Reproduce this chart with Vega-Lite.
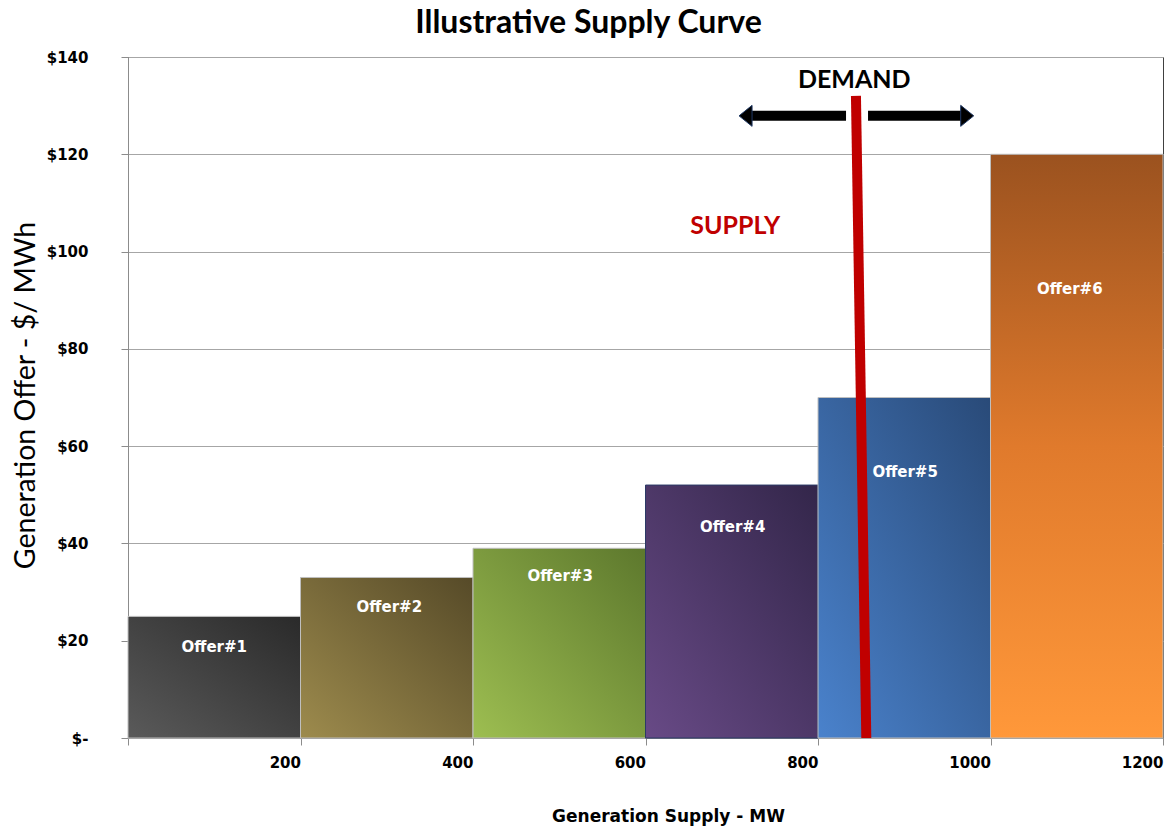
{
  "$schema": "https://vega.github.io/schema/vega-lite/v6.json",
  "width": 1035,
  "height": 681,
  "autosize": {"type": "none"},
  "padding": {"left": 128, "top": 57, "right": 6, "bottom": 90},
  "background": "white",
  "title": {
    "text": "Illustrative Supply Curve",
    "font": "Lato",
    "fontSize": 32,
    "fontWeight": "bold",
    "color": "#000000",
    "anchor": "middle",
    "dx": -57,
    "offset": 10
  },
  "config": {
    "view": {"stroke": "#404040", "strokeWidth": 1},
    "axis": {
      "labelFont": "DejaVu Sans",
      "labelFontWeight": "bold",
      "labelFontSize": 15,
      "labelColor": "#000000",
      "domainColor": "#8c8c8c",
      "tickColor": "#8c8c8c",
      "gridColor": "#a6a6a6"
    }
  },
  "datasets": {
    "bars": [
      {"offer": "Offer#1", "start": 0, "end": 200, "price": 25, "mid": 100, "labelPrice": 18.7},
      {"offer": "Offer#2", "start": 200, "end": 400, "price": 33, "mid": 303, "labelPrice": 26.9},
      {"offer": "Offer#3", "start": 400, "end": 600, "price": 39, "mid": 501, "labelPrice": 33.3},
      {"offer": "Offer#4", "start": 600, "end": 800, "price": 52, "mid": 701, "labelPrice": 43.4},
      {"offer": "Offer#5", "start": 800, "end": 1000, "price": 70, "mid": 901, "labelPrice": 54.7},
      {"offer": "Offer#6", "start": 1000, "end": 1200, "price": 120, "mid": 1092, "labelPrice": 92.3}
    ],
    "demand": [
      {"x1": 844, "y1": 132, "x2": 856, "y2": 0}
    ],
    "arrows": [
      {"dir": "left", "tail": 832.5, "head": 716, "price": 127.9},
      {"dir": "right", "tail": 858, "head": 973, "price": 127.9}
    ],
    "notes": [
      {"label": "DEMAND", "kind": "demand", "q": 842, "price": 135.2},
      {"label": "SUPPLY", "kind": "supply", "q": 704, "price": 105.3}
    ]
  },
  "layer": [
    {
      "data": {"name": "bars"},
      "encoding": {
        "x": {
          "field": "start",
          "type": "quantitative",
          "title": "Generation Supply - MW",
          "scale": {"domain": [0, 1200], "nice": false},
          "axis": {
            "values": [0, 200, 400, 600, 800, 1000, 1200],
            "format": "d",
            "labelExpr": "datum.value == 0 ? '' : datum.label",
            "labelAlign": "right",
            "labelBaseline": "top",
            "labelPadding": 10,
            "tickSize": 7,
            "grid": false,
            "titleFont": "DejaVu Sans",
            "titleFontWeight": "bold",
            "titleFontSize": 17,
            "titleColor": "#000000",
            "titleX": 540,
            "titleY": 83,
            "titleAlign": "center",
            "titleBaseline": "alphabetic"
          }
        },
        "x2": {"field": "end"},
        "y": {
          "field": "price",
          "type": "quantitative",
          "title": "Generation Offer -  $/ MWh",
          "scale": {"domain": [0, 140], "nice": false},
          "axis": {
            "values": [0, 20, 40, 60, 80, 100, 120, 140],
            "labelExpr": "datum.value == 0 ? '$-' : '$' + datum.value",
            "labelPadding": 33,
            "tickSize": 7,
            "grid": true,
            "titleFont": "Lato",
            "titleFontWeight": "normal",
            "titleFontSize": 28.5,
            "titleColor": "#000000",
            "titleAngle": -90,
            "titleX": -103,
            "titleY": 338,
            "titleAlign": "center",
            "titleBaseline": "middle"
          }
        },
        "y2": {"datum": 0}
      },
      "layer": [
        {
          "transform": [{"filter": "datum.offer == 'Offer#1'"}],
          "mark": {"type": "bar", "stroke": "#bfbfbf", "strokeWidth": 1, "fill": {"gradient": "linear", "x1": 0, "y1": 1, "x2": 1, "y2": 0, "stops": [{"offset": 0, "color": "#5a5a5a"}, {"offset": 1, "color": "#2a2a2a"}]}}
        },
        {
          "transform": [{"filter": "datum.offer == 'Offer#2'"}],
          "mark": {"type": "bar", "stroke": "#bfbfbf", "strokeWidth": 1, "fill": {"gradient": "linear", "x1": 0, "y1": 1, "x2": 1, "y2": 0, "stops": [{"offset": 0, "color": "#9d8b4d"}, {"offset": 1, "color": "#564a28"}]}}
        },
        {
          "transform": [{"filter": "datum.offer == 'Offer#3'"}],
          "mark": {"type": "bar", "stroke": "#bfbfbf", "strokeWidth": 1, "fill": {"gradient": "linear", "x1": 0, "y1": 1, "x2": 1, "y2": 0, "stops": [{"offset": 0, "color": "#9dbe51"}, {"offset": 1, "color": "#5d782d"}]}}
        },
        {
          "transform": [{"filter": "datum.offer == 'Offer#4'"}],
          "mark": {"type": "bar", "stroke": "#2b3a66", "strokeWidth": 1, "fill": {"gradient": "linear", "x1": 0, "y1": 1, "x2": 1, "y2": 0, "stops": [{"offset": 0, "color": "#684a86"}, {"offset": 1, "color": "#33264a"}]}}
        },
        {
          "transform": [{"filter": "datum.offer == 'Offer#5'"}],
          "mark": {"type": "bar", "stroke": "#bfbfbf", "strokeWidth": 1, "fill": {"gradient": "linear", "x1": 0, "y1": 1, "x2": 1, "y2": 0, "stops": [{"offset": 0, "color": "#4a82cc"}, {"offset": 1, "color": "#294a78"}]}}
        },
        {
          "transform": [{"filter": "datum.offer == 'Offer#6'"}],
          "mark": {"type": "bar", "stroke": "#bfbfbf", "strokeWidth": 1, "fill": {"gradient": "linear", "x1": 0, "y1": 1, "x2": 0, "y2": 0, "stops": [{"offset": 0, "color": "#ff983a"}, {"offset": 0.5, "color": "#e07a2c"}, {"offset": 1, "color": "#9b521f"}]}}
        }
      ]
    },
    {
      "data": {"name": "bars"},
      "mark": {"type": "text", "font": "DejaVu Sans", "fontWeight": "bold", "fontSize": 15, "color": "#ffffff", "align": "center", "baseline": "middle"},
      "encoding": {
        "x": {"field": "mid", "type": "quantitative", "title": "Generation Supply - MW"},
        "y": {"field": "labelPrice", "type": "quantitative", "title": "Generation Offer -  $/ MWh"},
        "text": {"field": "offer"}
      }
    },
    {
      "data": {"name": "demand"},
      "mark": {"type": "rule", "color": "#c00000", "strokeWidth": 10, "strokeCap": "butt"},
      "encoding": {
        "x": {"field": "x1", "type": "quantitative", "title": "Generation Supply - MW"},
        "y": {"field": "y1", "type": "quantitative", "title": "Generation Offer -  $/ MWh"},
        "x2": {"field": "x2"},
        "y2": {"field": "y2"}
      }
    },
    {
      "data": {"name": "arrows"},
      "mark": {"type": "rule", "color": "#000000", "strokeWidth": 10, "strokeCap": "butt"},
      "encoding": {
        "x": {"field": "tail", "type": "quantitative", "title": "Generation Supply - MW"},
        "x2": {"field": "head"},
        "y": {"field": "price", "type": "quantitative", "title": "Generation Offer -  $/ MWh"}
      }
    },
    {
      "data": {"name": "arrows"},
      "mark": {"type": "point", "filled": true, "color": "#000000", "opacity": 1, "size": 441, "stroke": "#1f3864", "strokeWidth": 1},
      "encoding": {
        "x": {"field": "head", "type": "quantitative", "title": "Generation Supply - MW"},
        "y": {"field": "price", "type": "quantitative", "title": "Generation Offer -  $/ MWh"},
        "shape": {
          "field": "dir",
          "type": "nominal",
          "legend": null,
          "scale": {"domain": ["left", "right"], "range": ["M -0.62 0 L 0.62 -1 L 0.62 1 Z", "M 0.62 0 L -0.62 -1 L -0.62 1 Z"]}
        }
      }
    },
    {
      "data": {"name": "notes"},
      "mark": {"type": "text", "font": "Lato", "fontWeight": "bold", "fontSize": 25, "align": "center", "baseline": "middle"},
      "encoding": {
        "x": {"field": "q", "type": "quantitative", "title": "Generation Supply - MW"},
        "y": {"field": "price", "type": "quantitative", "title": "Generation Offer -  $/ MWh"},
        "text": {"field": "label"},
        "color": {
          "field": "kind",
          "type": "nominal",
          "legend": null,
          "scale": {"domain": ["demand", "supply"], "range": ["#000000", "#c00000"]}
        }
      }
    }
  ]
}
